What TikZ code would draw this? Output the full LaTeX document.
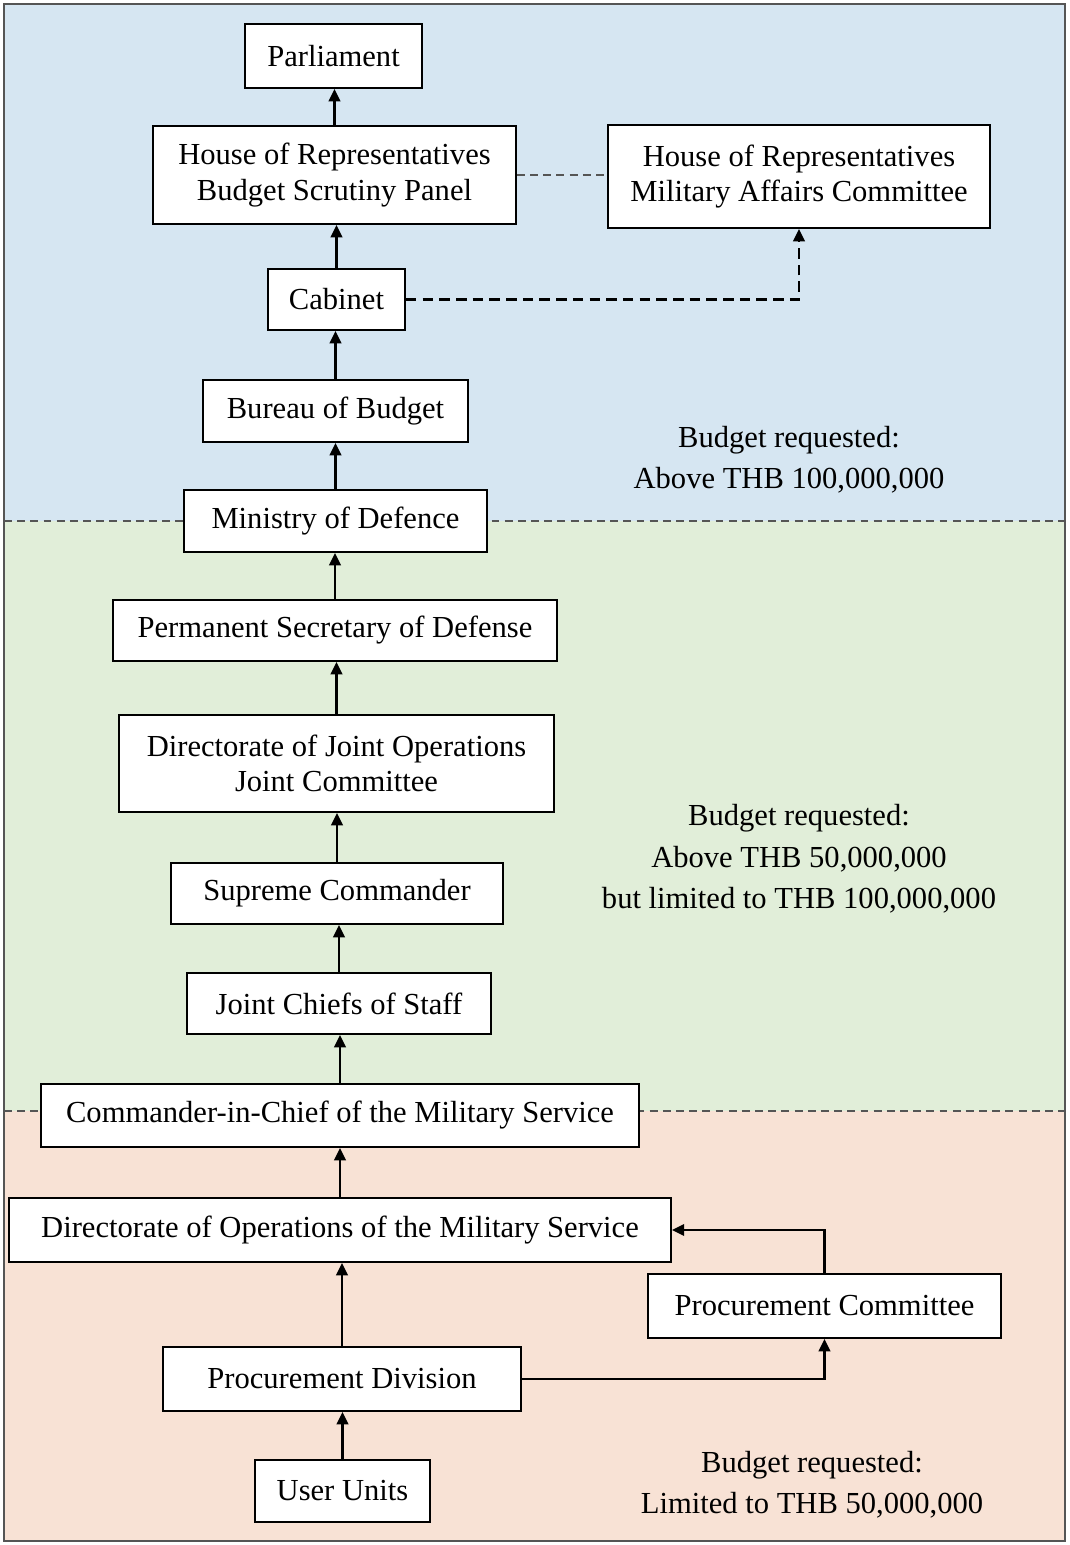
\documentclass[tikz,border=0pt]{standalone}
\usepackage{fontspec}
\setmainfont{Liberation Serif}
\usetikzlibrary{arrows.meta}
\definecolor{topblue}{RGB}{214,230,242}
\definecolor{midgreen}{RGB}{225,238,217}
\definecolor{lowpeach}{RGB}{248,226,213}
\definecolor{framegray}{RGB}{85,85,85}
\tikzset{
	box/.style={draw, fill=white, line width=1.1pt, inner sep=0pt, align=center, font=\fontsize{17.4}{20}\selectfont},
	note/.style={align=center, font=\fontsize{17.4}{23.5}\selectfont},
	flow/.style={line width=1.3pt, -{Triangle[length=7pt,width=6.5pt]}},
	border/.style={draw=framegray, line width=0.8pt, dash pattern=on 4.5pt off 3pt}
}
\begin{document}
\begin{tikzpicture}[x=0.02cm,y=-0.02cm]
		\useasboundingbox (0,0) rectangle (1069,1545);
		%bands
		\fill[topblue] (4,4) rectangle (1065,521);
		\fill[midgreen] (4,521) rectangle (1065,1111);
		\fill[lowpeach] (4,1111) rectangle (1065,1541);
		\draw[border] (4,521) -- (1065,521);
		\draw[border] (4,1111) -- (1065,1111);
		\draw[framegray, line width=1.1pt] (4,4) rectangle (1065,1541);
		
		%parliament level
		\node (par) at (333.5,56) [box, minimum width=3.54cm, minimum height=1.28cm]{Parliament};
		\node (bsp) at (334.5,175) [box, minimum width=7.26cm, minimum height=1.96cm]{House of Representatives\\Budget Scrutiny Panel};
		\node (mac) at (799,176.5) [box, minimum width=7.64cm, minimum height=2.06cm]{House of Representatives\\Military Affairs Committee};
		\node (cab) at (336.5,299.5) [box, minimum width=2.74cm, minimum height=1.22cm]{Cabinet};
		\node (bob) at (335.5,411) [box, minimum width=5.30cm, minimum height=1.24cm]{Bureau of Budget};
		\node (mod) at (335.5,521) [box, minimum width=6.06cm, minimum height=1.24cm]{Ministry of Defence};
		
		%defence level
		\node (psd) at (335,630.5) [box, minimum width=8.88cm, minimum height=1.22cm]{Permanent Secretary of Defense};
		\node (djo) at (336.5,763.5) [box, minimum width=8.70cm, minimum height=1.94cm]{Directorate of Joint Operations\\Joint Committee};
		\node (sc) at (337,893.5) [box, minimum width=6.64cm, minimum height=1.22cm]{Supreme Commander};
		\node (jcs) at (339,1003.5) [box, minimum width=6.08cm, minimum height=1.22cm]{Joint Chiefs of Staff};
		\node (cic) at (340,1115.5) [box, minimum width=11.96cm, minimum height=1.26cm]{Commander-in-Chief of the Military Service};
		
		%service level
		\node (dom) at (340,1230) [box, minimum width=13.24cm, minimum height=1.28cm]{Directorate of Operations of the Military Service};
		\node (pc) at (824.5,1306) [box, minimum width=7.06cm, minimum height=1.28cm]{Procurement Committee};
		\node (pd) at (342,1379) [box, minimum width=7.16cm, minimum height=1.28cm]{Procurement Division};
		\node (uu) at (342.5,1491) [box, minimum width=3.50cm, minimum height=1.24cm]{User Units};
		
		%budget notes
		\node (note1) at (789,460) [note]{Budget requested:\\Above THB 100,000,000};
		\node (note2) at (799,859) [note]{Budget requested:\\Above THB 50,000,000\\but limited to THB 100,000,000};
		\node (note3) at (812,1485) [note]{Budget requested:\\Limited to THB 50,000,000};
		
		%main chain
		\draw[flow] (bsp.north) -- (bsp.north |- par.south);
		\draw[flow] (cab.north) -- (cab.north |- bsp.south);
		\draw[flow] (bob.north) -- (bob.north |- cab.south);
		\draw[flow] (mod.north) -- (mod.north |- bob.south);
		\draw[flow] (psd.north) -- (psd.north |- mod.south);
		\draw[flow] (djo.north) -- (djo.north |- psd.south);
		\draw[flow] (sc.north) -- (sc.north |- djo.south);
		\draw[flow] (jcs.north) -- (jcs.north |- sc.south);
		\draw[flow] (cic.north) -- (cic.north |- jcs.south);
		\draw[flow] (dom.north) -- (dom.north |- cic.south);
		\draw[flow] (pd.north) -- (pd.north |- dom.south);
		\draw[flow] (uu.north) -- (uu.north |- pd.south);
		
		%side links
		\draw[flow] (pd.east) -| (pc.south);
		\draw[flow] (pc.north) |- (dom.east);
		\draw[flow, dash pattern=on 6pt off 3.5pt] (cab.east) -| (mac.south);
		\draw[border] (bsp.east) -- (bsp.east -| mac.west);
\end{tikzpicture}
\end{document}
